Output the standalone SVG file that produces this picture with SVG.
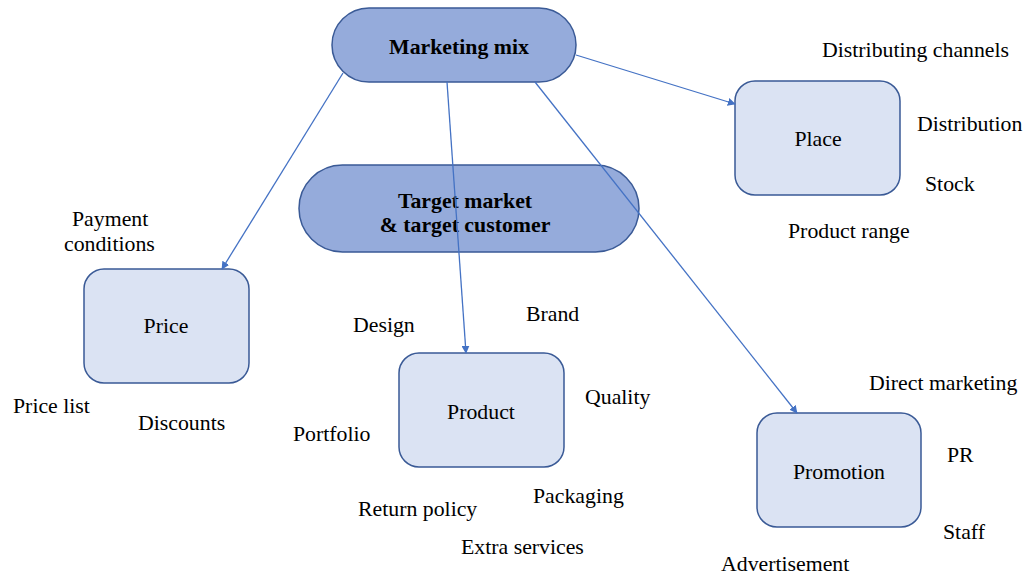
<svg xmlns="http://www.w3.org/2000/svg" width="1025" height="578" viewBox="0 0 1025 578">
<defs>
<marker id="arr" viewBox="0 0 10 10" refX="9" refY="5" markerWidth="8" markerHeight="8" markerUnits="userSpaceOnUse" orient="auto">
<path d="M0,0 L10,5 L0,10 z" fill="#4472c4"/>
</marker>
<style>
.pill{fill:#95abdb;stroke:#3a5a96;stroke-width:1.5}
.box{fill:#dbe3f3;stroke:#3a5a96;stroke-width:1.5}
.t{font-family:"Liberation Serif","Times New Roman",serif;font-size:21.8px;fill:#000}
.b{font-weight:bold;text-anchor:middle}
.c{text-anchor:middle}
.conn{stroke:#4472c4;stroke-width:1.3;fill:none;marker-end:url(#arr)}
</style>
</defs>
<rect width="1025" height="578" fill="#fff"/>
<g id="marketing-mix">
<rect class="pill" x="332" y="8" width="244" height="74" rx="37"/>
<text class="t b" x="459" y="54">Marketing mix</text>
</g>
<g id="target-market">
<rect class="pill" x="299" y="165" width="340" height="87" rx="43.5"/>
<text class="t b" x="465" y="208">Target market</text>
<text class="t b" x="465" y="232">&amp; target customer</text>
</g>
<g id="place">
<rect class="box" x="735" y="81" width="165" height="114" rx="20"/>
<text class="t c" x="818" y="146">Place</text>
</g>
<g id="price">
<rect class="box" x="84" y="269" width="165" height="114" rx="20"/>
<text class="t c" x="166" y="333">Price</text>
</g>
<g id="product">
<rect class="box" x="399" y="353" width="165" height="114" rx="20"/>
<text class="t c" x="481" y="419">Product</text>
</g>
<g id="promotion">
<rect class="box" x="757" y="413" width="164" height="114" rx="20"/>
<text class="t c" x="839" y="479">Promotion</text>
</g>
<g id="connectors">
<line class="conn" x1="343" y1="73" x2="222" y2="269"/>
<line class="conn" x1="447" y1="82" x2="466" y2="353"/>
<line class="conn" x1="535" y1="82" x2="797" y2="413"/>
<line class="conn" x1="576" y1="55" x2="735" y2="104"/>
</g>
<g id="labels">
<text class="t" x="822" y="57">Distributing channels</text>
<text class="t" x="917" y="131">Distribution</text>
<text class="t" x="925" y="191">Stock</text>
<text class="t" x="788" y="238">Product range</text>
<text class="t" x="72" y="226">Payment</text>
<text class="t" x="64" y="251">conditions</text>
<text class="t" x="13" y="413">Price list</text>
<text class="t" x="138" y="430">Discounts</text>
<text class="t" x="353" y="332">Design</text>
<text class="t" x="526" y="321">Brand</text>
<text class="t" x="585" y="404">Quality</text>
<text class="t" x="293" y="441">Portfolio</text>
<text class="t" x="533" y="503">Packaging</text>
<text class="t" x="358" y="516">Return policy</text>
<text class="t" x="461" y="554">Extra services</text>
<text class="t" x="869" y="390">Direct marketing</text>
<text class="t" x="947" y="462">PR</text>
<text class="t" x="943" y="539">Staff</text>
<text class="t" x="721" y="571">Advertisement</text>
</g>
</svg>
